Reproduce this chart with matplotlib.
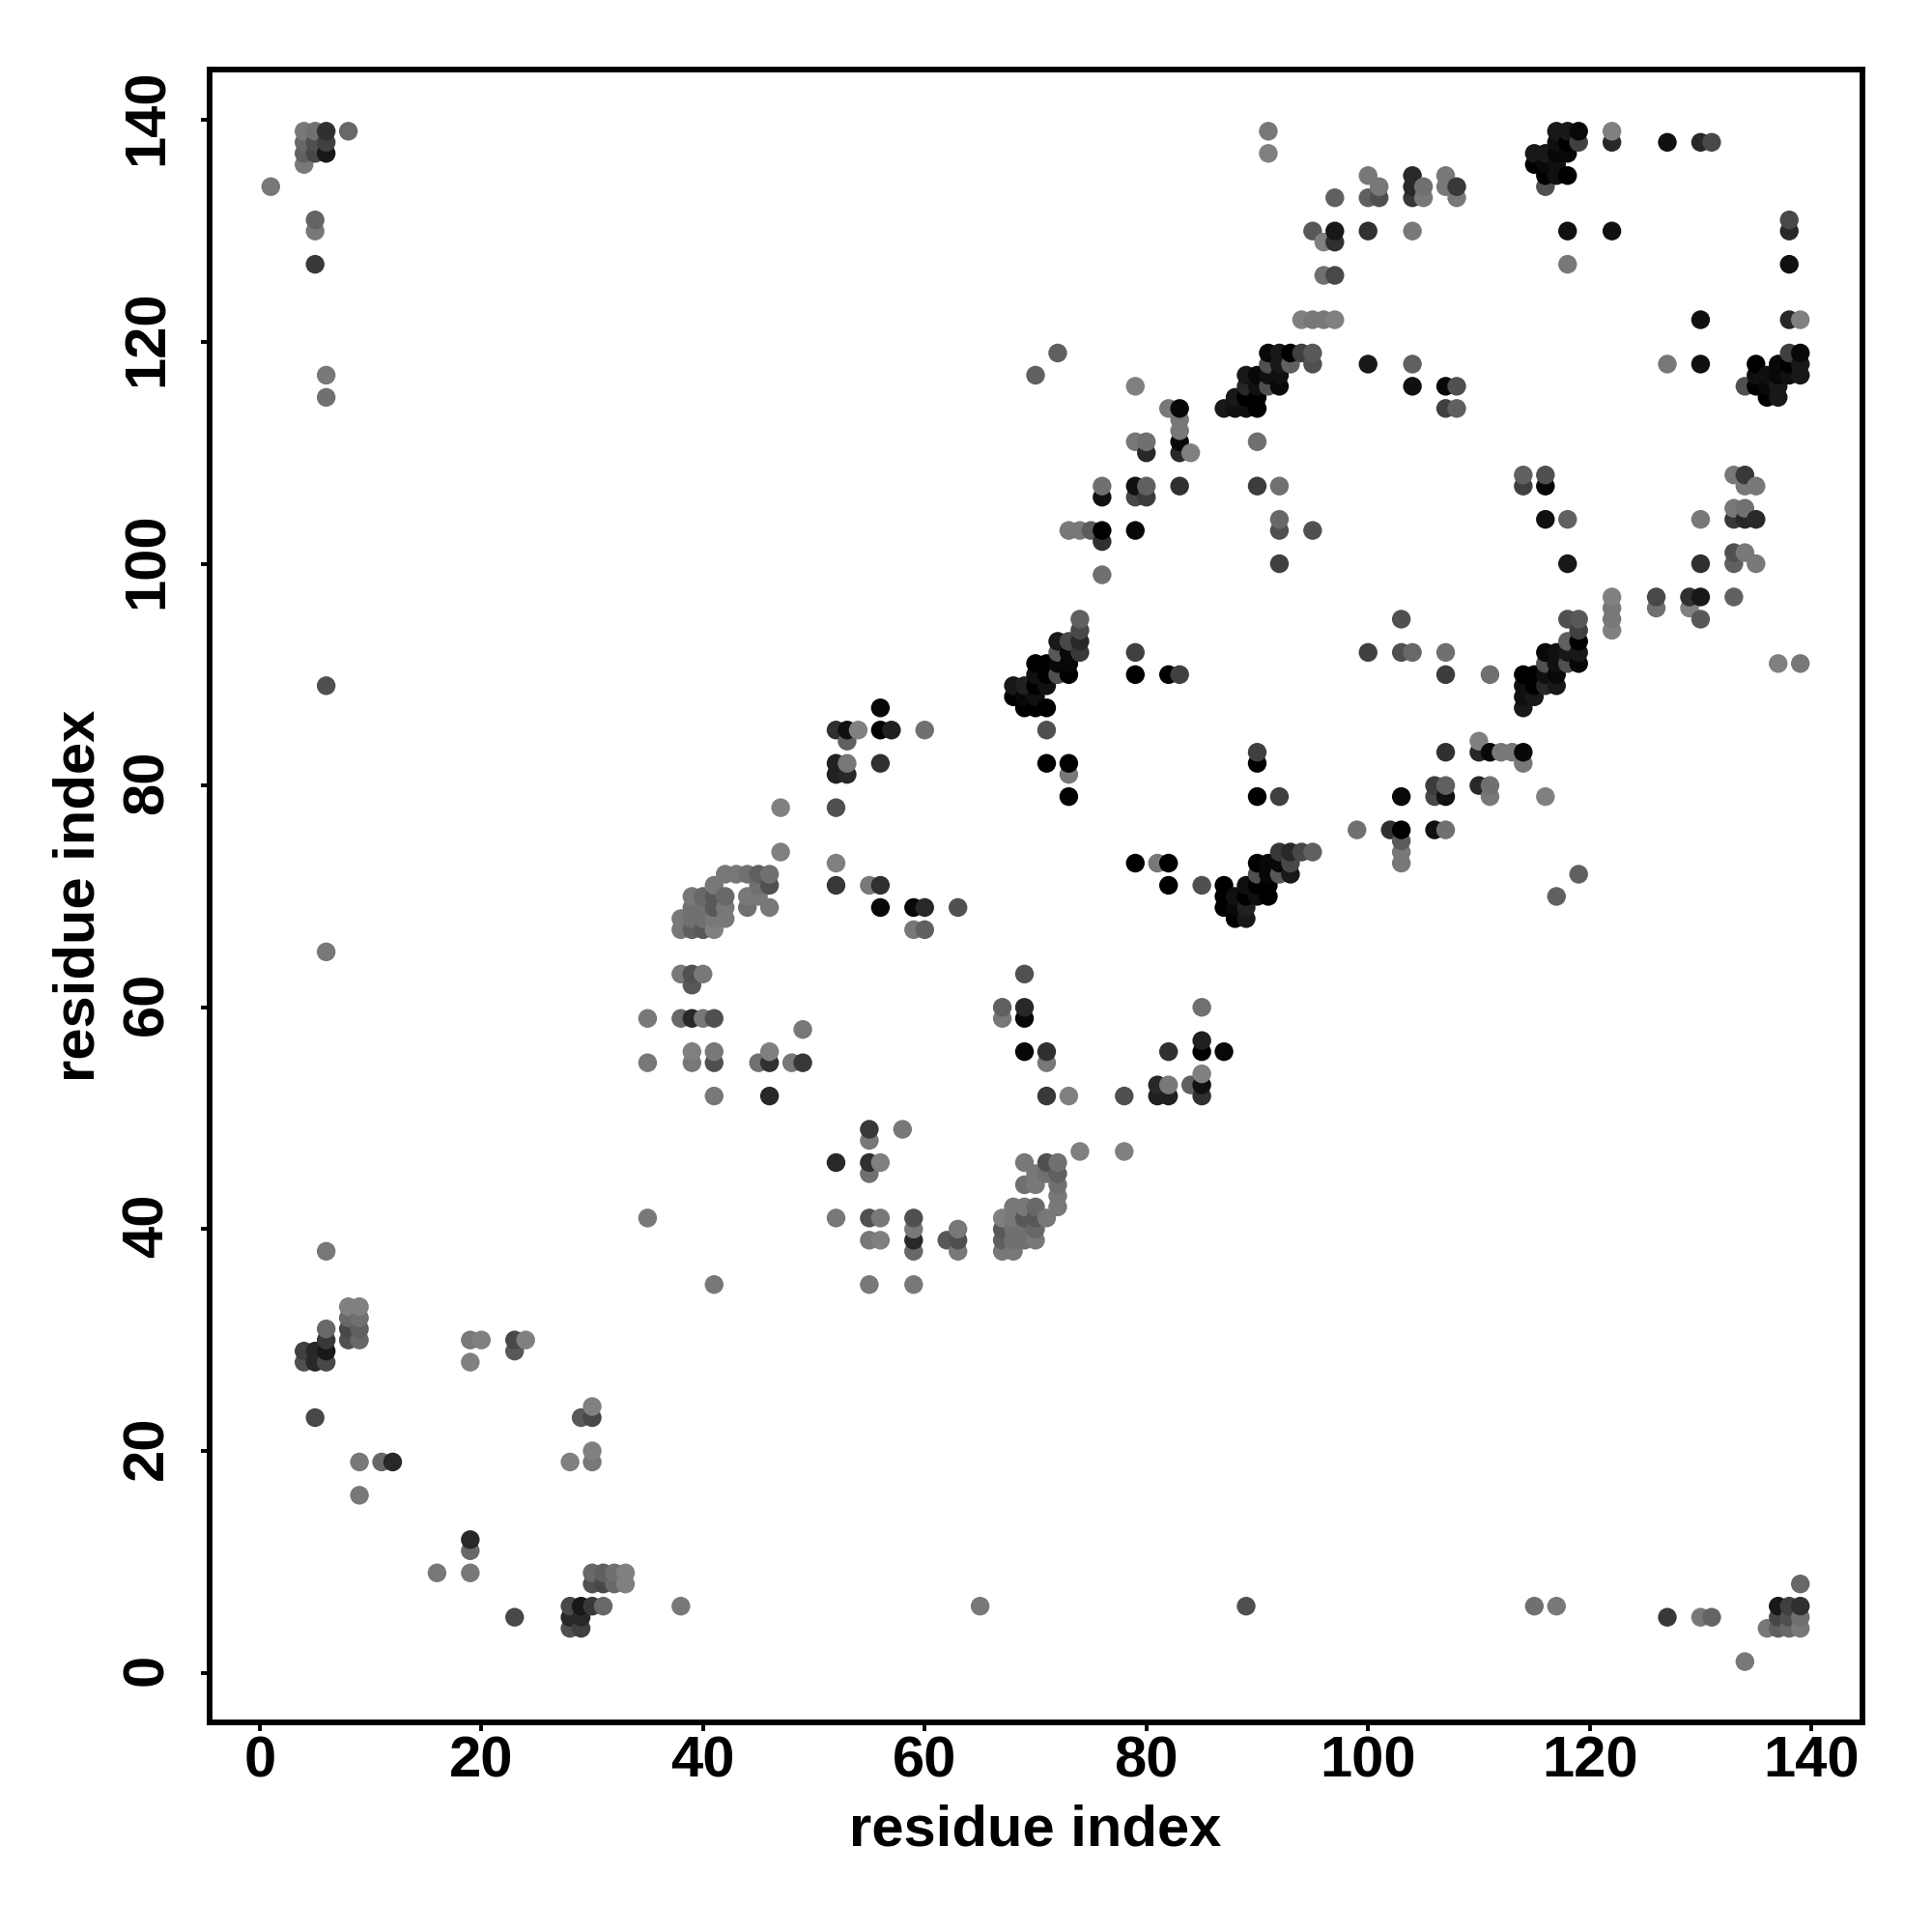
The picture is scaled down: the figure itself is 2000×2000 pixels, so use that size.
import numpy as np
import matplotlib
matplotlib.use("Agg")
import matplotlib.pyplot as plt
from matplotlib.transforms import ScaledTranslation

plt.rcParams['font.family'] = ['Liberation Sans', 'DejaVu Sans']
plt.rcParams['font.weight'] = 'bold'

# contact map is symmetric, so only pairs with res_a < res_b are listed
res_a = [1,
         4,4,4,4,4,4,
         5,5,5,5,5,5,5,5,5,
         6,6,6,6,6,6,6,6,6,6,6,6,
         8,8,8,8,8,
         9,9,9,9,9,9,
         11, 12,
         19,19, 20, 23,23, 24,
         35,35,35,
         38,38,38,38,
         39,39,39,39,39,39,39,39,39,
         40,40,40,40,40,40,
         41,41,41,41,41,41,41,41,41,
         42,42,42,42, 43,
         44,44,44,
         45,45,45,45,
         46,46,46,46,46,46,
         47,47, 48, 49,49,
         52,52,52,52,52,52,
         53,53,53,53, 54, 55,
         56,56,56,56,56, 57,
         59,59, 60,60,60, 63,
         68,68, 69,69,69,
         70,70,70,70,70,70,
         71,71,71,71,71,71,
         72,72,72,72,72,
         73,73,73,73,73,73,73,73,
         74,74,74,74,74, 75,
         76,76,76,76,76,
         79,79,79,79,79,79,79,
         80,80,80,80,
         82,82,
         83,83,83,83,83,83,83,
         84, 87, 88,88,
         89,89,89,89,
         90,90,90,90,90,90,
         91,91,91,91,91,91,
         92,92,92,92,92,92,92,92,
         93,93, 94,94,
         95,95,95,95,95,
         96,96,96,
         97,97,97,97,97,
         100,100,100,100, 101,101,
         104,104,104,104,104,104,
         105,105,
         107,107,107,107,
         108,108,108,108,
         115,115,
         116,116,116,116,
         117,117,117,117,117,
         118,118,118,118,118,118,
         119,119,
         122,122,122,
         127, 130, 131]

res_b = [134,
         28,29,136,137,138,139,
         23,28,29,127,130,131,137,138,139,
         28,29,30,31,38,65,89,115,117,137,138,139,
         30,31,32,33,139,
         16,19,30,31,32,33,
         19, 19,
         28,30, 30, 29,30, 30,
         41,55,59,
         59,63,67,68,
         55,56,59,62,63,67,68,69,70,
         59,63,67,68,69,70,
         52,55,56,59,67,68,69,70,71,
         68,69,70,72, 72,
         69,70,72,
         55,70,71,72,
         52,55,56,69,71,72,
         74,78, 55, 55,58,
         71,73,78,81,82,85,
         81,82,84,85, 85, 71,
         69,71,82,85,87, 85,
         67,69, 67,69,85, 69,
         88,89, 87,88,89,
         87,88,89,90,91,117,
         82,85,87,89,90,91,
         90,91,92,93,119,
         79,81,82,90,91,92,93,103,
         92,93,94,95,103, 103,
         99,102,103,106,107,
         90,92,103,106,107,111,116,
         106,107,110,111,
         90,114,
         90,107,110,111,112,113,114,
         110, 114, 114,115,
         114,115,116,117,
         107,111,114,115,116,117,
         116,117,118,119,137,139,
         100,103,104,107,116,117,118,119,
         118,119, 119,122,
         103,118,119,122,130,
         122,126,129,
         122,126,129,130,133,
         118,130,133,135, 133,134,
         116,118,130,133,134,135,
         133,134,
         114,116,134,135,
         114,116,133,134,
         136,137,
         134,135,136,137,
         135,136,137,138,139,
         127,130,135,137,138,139,
         138,139,
         130,138,139,
         138, 138, 138]

# grey level of each contact, 0 = black
shade = [120,
         80,64,120,96,104,120,
         72,40,40,56,120,100,72,80,112,
         72,24,56,104,120,120,80,112,120,24,64,48,
         80,72,104,128,104,
         120,120,104,96,112,128,
         104, 40,
         128,120, 128, 88,72, 128,
         120,120,120,
         104,120,120,120,
         120,128,40,88,80,96,112,112,120,
         120,120,88,112,112,104,
         120,80,120,80,128,120,88,88,120,
         120,120,104,120, 120,
         112,120,112,
         112,120,112,96,
         40,48,128,120,80,112,
         128,128, 120, 56,120,
         56,128,80,32,32,48,
         40,120,96,16, 128, 120,
         8,48,48,0,8, 32,
         120,8, 96,40,112, 80,
         0,24, 0,8,32,
         0,16,0,16,0,96,
         0,80,0,16,0,0,
         80,8,88,24,96,
         0,120,0,0,8,8,72,120,
         56,40,72,96,120, 92,
         112,48,0,16,112,
         0,64,8,72,16,120,128,
         60,96,40,112,
         0,120,
         64,48,40,8,120,120,8,
         128, 24, 16,24,
         16,0,40,24,
         60,112,0,0,16,8,
         80,16,80,8,128,120,
         64,80,104,112,8,16,24,24,
         96,0, 64,128,
         80,80,88,120,88,
         120,112,128,
         128,72,48,24,96,
         24,48,96,120, 80,120,
         16,96,120,56,40,40,
         120,112,
         64,8,120,120,
         96,80,120,56,
         0,24,
         80,0,8,24,
         16,16,8,16,24,
         120,16,0,8,0,24,
         64,8,
         16,40,128,
         16, 40, 72]

ticks = [0, 20, 40, 60, 80, 100, 120, 140]

# mirror the pairs, later columns and higher rows are painted on top
x = np.array(res_a + res_b)
y = np.array(res_b + res_a)
grey = np.array(shade + shade) / 255
order = np.lexsort((y, x))

fig = plt.figure(figsize=(20, 20), dpi=100)
ax = fig.add_axes([0.10825, 0.1085, 0.8555, 0.8555])

ax.scatter(x[order], y[order], c=grey[order], cmap='gray', vmin=0, vmax=1,
           s=195, linewidths=0, clip_on=False)

ax.set_xlim(-4.56, 144.56)
ax.set_ylim(-4.48, 144.56)
ax.set_xticks(ticks)
ax.set_yticks(ticks)
ax.tick_params(axis='both', length=6.5, width=2.8, labelsize=43)
ax.tick_params(axis='x', pad=3)
ax.tick_params(axis='y', pad=28)
plt.setp(ax.get_yticklabels(), rotation=90, ha='center', va='baseline',
         rotation_mode='anchor')
# nudge the rotated labels up a little
nudge = ScaledTranslation(0, 2.5 / 72, fig.dpi_scale_trans)
for label in ax.get_yticklabels():
    label.set_transform(label.get_transform() + nudge)
for spine in ax.spines.values():
    spine.set_linewidth(4.2)

ax.set_xlabel('residue index', fontsize=43, fontweight='bold')
ax.set_ylabel('residue index', fontsize=43, fontweight='bold')
ax.xaxis.set_label_coords(0.5, -0.0492)
ax.yaxis.set_label_coords(-0.0628, 0.5)

fig.savefig('out.png', dpi=100)
